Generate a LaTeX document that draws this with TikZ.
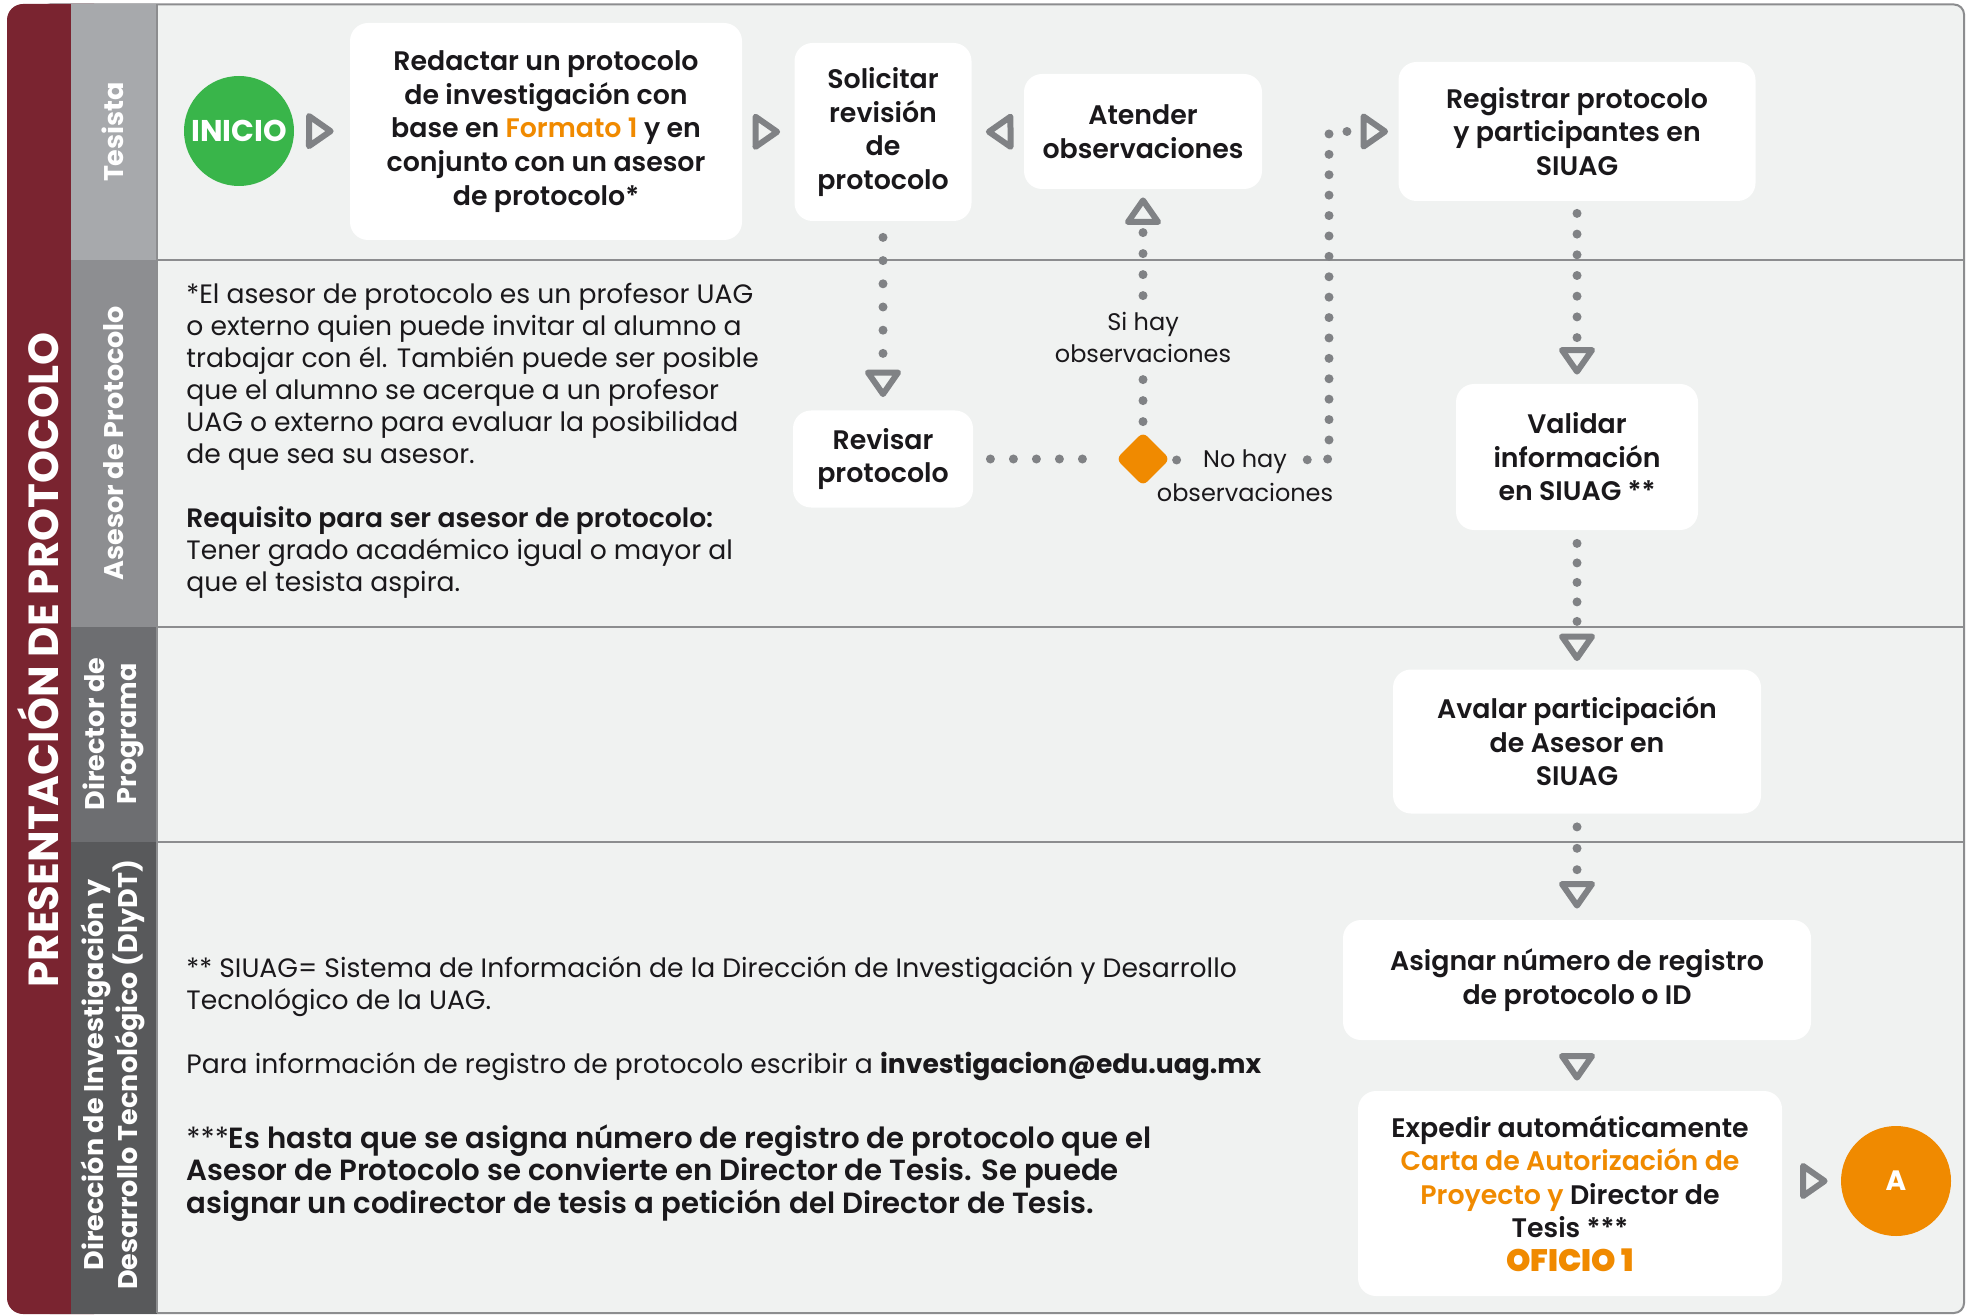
\documentclass[tikz,border=0pt]{standalone}
\usepackage{fontspec}
\setmainfont{Poppins}
\IfFontExistsTF{Poppins Medium}{\newfontfamily\medfont{Poppins Medium}}{\newfontfamily\medfont{Poppins}[FakeBold=0.4]}
\IfFontExistsTF{Poppins SemiBold}{\newfontfamily\semifont{Poppins SemiBold}}{\newfontfamily\semifont{Poppins}[FakeBold=0.8]}
\usepackage{tikz}
\usetikzlibrary{positioning}
\usetikzlibrary{shapes.geometric}
\usetikzlibrary{arrows.meta}

\definecolor{uagred}{RGB}{122,36,48}
\definecolor{lanebg}{RGB}{240,242,241}
\definecolor{frameln}{RGB}{140,141,143}
\definecolor{conn}{RGB}{128,130,133}
\definecolor{orng}{RGB}{240,138,0}
\definecolor{grn}{RGB}{57,181,74}
\definecolor{lane1}{RGB}{167,169,172}
\definecolor{lane2}{RGB}{141,142,145}
\definecolor{lane3}{RGB}{109,110,113}
\definecolor{lane4}{RGB}{88,89,91}
\definecolor{txt}{RGB}{26,24,27}

\begin{document}
\begin{tikzpicture}[x=0.5pt, y=-0.5pt,
    box/.style={fill=white, rounded corners=9pt, inner sep=0pt, align=center, text=txt, font=\semifont\fontsize{13.4}{16.8}\selectfont},
    lane/.style={rotate=90, text=white, align=center, font=\bfseries\fontsize{13.5}{16}\selectfont},
    note/.style={anchor=north west, inner sep=0pt, align=left, text=txt, font=\fontsize{13.3}{16}\selectfont},
    lbl/.style={inner sep=1pt, align=center, text=txt, font=\fontsize{12}{16}\selectfont},
    dotline/.style={draw=conn, line width=4.5pt, line cap=round, dash pattern=on 0pt off 10.5pt},
    dotarrow/.style={dotline, -{Triangle[open, round, length=15pt, width=20pt, line width=3pt]}},
    triarrow/.style={dotarrow, line cap=butt, dash pattern=on 0pt off 400pt}]
    \def\colx{1577}
    \useasboundingbox (0,0) rectangle (1973,1315);
    \fill[white] (0,0) rectangle (1973,1315);
    \draw[frameln, line width=1pt, fill=lanebg, rounded corners=5pt] (40,4.5) rectangle (1964,1313);
    \fill[uagred, rounded corners=8pt] (7,4) rectangle (110,1314);
    \fill[lane1] (71,4) rectangle (157,260);
    \fill[lane2] (71,260) rectangle (157,627);
    \fill[lane3] (71,627) rectangle (157,842);
    \fill[lane4] (71,842) rectangle (157,1314);
    \draw[frameln, line width=1pt] (157,4.5) -- (157,1313);
    \draw[frameln, line width=1pt] (157,260) -- (1964,260);
    \draw[frameln, line width=1pt] (157,627) -- (1964,627);
    \draw[frameln, line width=1pt] (157,842) -- (1964,842);

    \node[rotate=90, text=white, font=\bfseries\fontsize{21}{24}\selectfont] (titulo) at (38,660) {PRESENTACIÓN DE PROTOCOLO};
    \node[lane] (L1) at (113,132) {Tesista};
    \node[lane] (L2) at (114,443) {Asesor de Protocolo};
    \node[lane] (L3) at (113,734) {Director de\\Programa};
    \node[lane] (L4) at (113,1075) {Dirección de Investigación y\\Desarrollo Tecnológico (DIyDT)};

    \node[circle, fill=grn, minimum size=55pt, inner sep=0pt, text=white, font=\bfseries\fontsize{15}{18}\selectfont] (ini) at (239,131) {INICIO};
    \node[box, minimum width=196pt, minimum height=108.5pt] (red) at (546,131.5) {Redactar un protocolo\\de investigación con\\base en \textcolor{orng}{Formato 1} y en\\conjunto con un asesor\\de protocolo*};
    \node[box, minimum width=88.5pt, minimum height=89pt] (sol) at (883,132) {Solicitar\\revisión\\de\\protocolo};
    \node[box, minimum width=119pt, minimum height=57.5pt] (ate) at (1143,131.5) {Atender\\observaciones};
    \node[box, minimum width=178.5pt, minimum height=69.5pt] (reg) at (\colx,131.5) {Registrar protocolo\\y participantes en\\SIUAG};
    \node[box, minimum width=90pt, minimum height=48.5pt] (rev) at (883,459) {Revisar\\protocolo};
    \node[diamond, fill=orng, minimum size=27pt, inner sep=0pt, rounded corners=3pt] (dec) at (1143,459) {};
    \node[box, minimum width=121pt, minimum height=73pt] (val) at (\colx,457) {Validar\\información\\en SIUAG **};
    \node[box, minimum width=184pt, minimum height=72pt] (ava) at (\colx,741.5) {Avalar participación\\de Asesor en\\SIUAG};
    \node[box, minimum width=234pt, minimum height=60pt] (asi) at (\colx,980) {Asignar número de registro\\de protocolo o ID};
    \node[box, minimum width=212pt, minimum height=102.5pt] (exp) at (1570,1193.5) {Expedir automáticamente\\\textcolor{orng}{Carta de Autorización de}\\\textcolor{orng}{Proyecto y} Director de\\Tesis ***\\\textcolor{orng}{\bfseries\fontsize{15.5}{16.8}\selectfont OFICIO 1}};
    \node[circle, fill=orng, minimum size=55pt, inner sep=0pt, text=white, font=\bfseries\fontsize{14}{16}\selectfont] (fin) at (1896,1181) {A};

    \node[lbl] (nohay) at (1245,462) {No hay};
    \node[lbl, below=2pt of nohay] (nohay2) {observaciones};
    \coordinate (bend) at (1329,459);

    \draw[triarrow, shorten >=8pt] (ini) -- (red);
    \draw[triarrow, shorten >=7pt] (red) -- (sol);
    \draw[triarrow, shorten >=7pt] (ate) -- (sol);
    \draw[dotarrow, dash pattern=on 0pt off 11.6pt, shorten <=8pt, shorten >=6.5pt] (sol) -- (rev);
    \draw[dotline, dash pattern=on 0pt off 11.5pt, shorten <=8.5pt, shorten >=6pt] (rev) -- (dec);
    \draw[dotarrow, shorten <=5pt, shorten >=4pt] (dec) -- (ate);
    \node[lbl, fill=lanebg] (sihay) at (1143,337) {Si hay\\observaciones};
    \draw[dotline, shorten <=3.5pt, shorten >=6pt] (dec) -- (nohay);
    \draw[dotarrow, dash pattern=on 0pt off 10.2pt, shorten <=9pt, shorten >=5pt] (nohay) -- (bend) |- (reg);
    \draw[dotarrow, dash pattern=on 0pt off 10.35pt, shorten <=6pt, shorten >=4.5pt] (reg) -- (val);
    \draw[dotarrow, dash pattern=on 0pt off 9.75pt, shorten <=6.5pt, shorten >=4pt] (val) -- (ava);
    \draw[dotarrow, dash pattern=on 0pt off 10.7pt, shorten <=6.5pt, shorten >=5.5pt] (ava) -- (asi);
    \draw[triarrow, shorten >=5pt] (asi.south) -- (asi.south |- exp.north);
    \draw[triarrow, shorten >=6.5pt] (exp.east |- fin) -- (fin);

    \node[note] (asesortxt) at (186,283) {*El asesor de protocolo es un profesor UAG\\o externo quien puede invitar al alumno a\\trabajar con él. También puede ser posible\\que el alumno se acerque a un profesor\\UAG o externo para evaluar la posibilidad\\de que sea su asesor.\\[16pt]{\semifont Requisito para ser asesor de protocolo:}\\Tener grado académico igual o mayor al\\que el tesista aspira.};
    \node[note] (siuagtxt) at (186,956) {** SIUAG= Sistema de Información de la Dirección de Investigación y Desarrollo\\Tecnológico de la UAG.\\[16pt]Para información de registro de protocolo escribir a {\bfseries investigacion@edu.uag.mx}};
    \node[note, font=\semifont\fontsize{14.6}{16.25}\selectfont] (tesistxt) at (186,1124) {{\normalfont ***}Es hasta que se asigna número de registro de protocolo que el\\Asesor de Protocolo se convierte en Director de Tesis. Se puede\\asignar un codirector de tesis a petición del Director de Tesis.};
\end{tikzpicture}
\end{document}
